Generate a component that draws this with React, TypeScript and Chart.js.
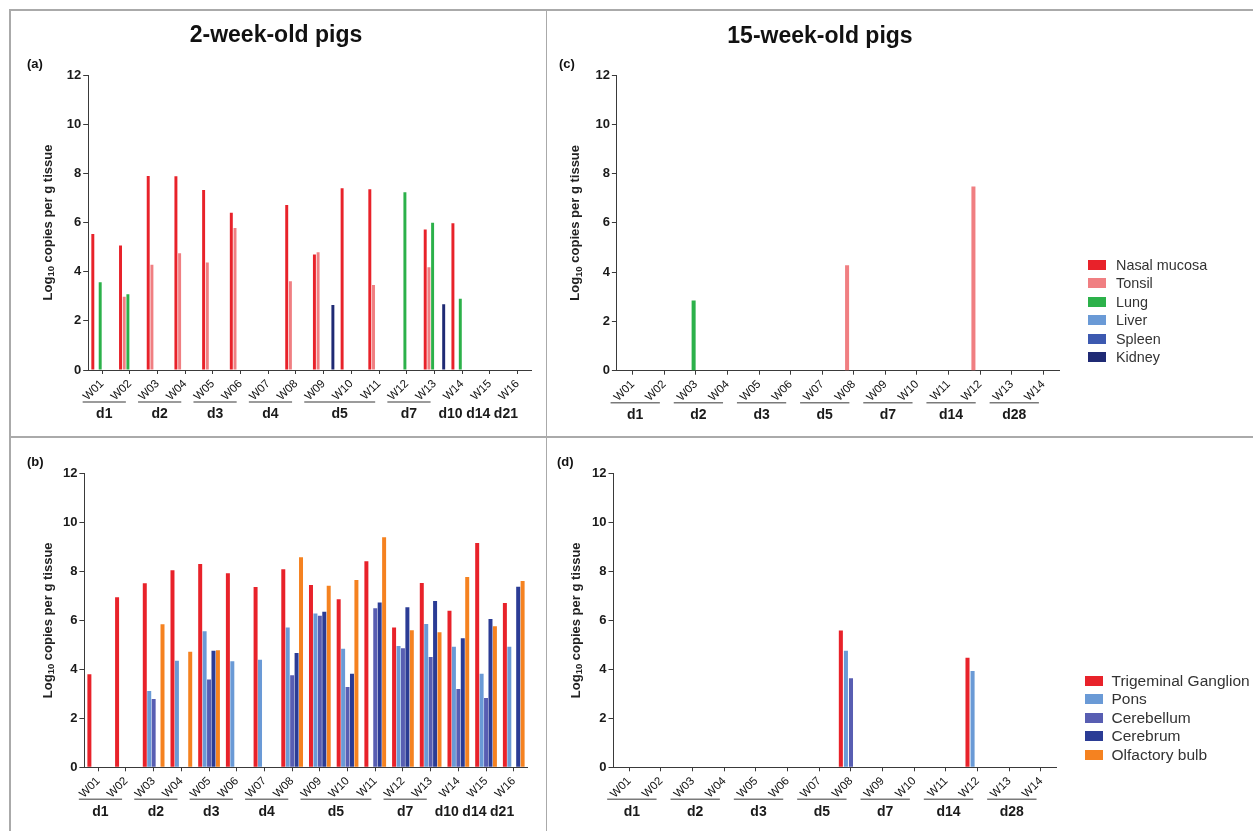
import React, { useEffect, useRef } from "react";
import { Chart, registerables } from "chart.js";

Chart.register(...registerables);

const FONT = "'Liberation Sans', Arial, Helvetica, sans-serif";

// Animals in each age group
const youngPigs = ["W01", "W02", "W03", "W04", "W05", "W06", "W07", "W08", "W09", "W10", "W11", "W12", "W13", "W14", "W15", "W16"];
const olderPigs = ["W01", "W02", "W03", "W04", "W05", "W06", "W07", "W08", "W09", "W10", "W11", "W12", "W13", "W14"];

// Day post infection and how many animals were sampled that day
const youngDays = ["d1", "d2", "d3", "d4", "d5", "d7", "d10", "d14", "d21"];
const youngDaySizes = [2, 2, 2, 2, 3, 2, 1, 1, 1];
const olderDays = ["d1", "d2", "d3", "d5", "d7", "d14", "d28"];
const olderDaySizes = [2, 2, 2, 2, 2, 2, 2];

// Peripheral tissues
const tissueNames = ["Nasal mucosa", "Tonsil", "Lung", "Liver", "Spleen", "Kidney"];
const tissueColors = ["#e8222a", "#f07f82", "#2cb14a", "#6a9ad6", "#3c59b0", "#1f2a74"];

// Nervous tissues
const neuralNames = ["Trigeminal Ganglion", "Pons", "Cerebellum", "Cerebrum", "Olfactory bulb"];
const neuralColors = ["#e8222a", "#6a9ad6", "#585eb2", "#2b3c95", "#f58220"];

// Log10 copies per g tissue — 2-week-old pigs, peripheral tissues
const youngNasal = [5.53, 5.06, 7.89, 7.88, 7.32, 6.4, 0, 6.71, 4.7, 7.39, 7.35, 0, 5.72, 5.97, 0, 0];
const youngTonsil = [0, 2.98, 4.28, 4.75, 4.37, 5.78, 0, 3.61, 4.79, 0, 3.46, 0, 4.18, 0, 0, 0];
const youngLung = [3.57, 3.08, 0, 0, 0, 0, 0, 0, 0, 0, 0, 7.23, 5.99, 2.9, 0, 0];
const youngLiver = [0, 0, 0, 0, 0, 0, 0, 0, 0, 0, 0, 0, 0, 0, 0, 0];
const youngSpleen = [0, 0, 0, 0, 0, 0, 0, 0, 0, 0, 0, 0, 0, 0, 0, 0];
const youngKidney = [0, 0, 0, 0, 0, 0, 0, 0, 2.64, 0, 0, 0, 2.67, 0, 0, 0];

// 2-week-old pigs, nervous tissues
const youngTrigeminal = [3.8, 6.94, 7.51, 8.04, 8.3, 7.92, 7.36, 8.08, 7.44, 6.86, 8.41, 5.71, 7.52, 6.39, 9.16, 6.71];
const youngPons = [0, 0, 3.11, 4.35, 5.55, 4.33, 4.39, 5.71, 6.28, 4.84, 0, 4.95, 5.85, 4.92, 3.82, 4.92];
const youngCerebellum = [0, 0, 2.79, 0, 3.58, 0, 0, 3.76, 6.19, 3.28, 6.49, 4.86, 4.5, 3.2, 2.83, 0];
const youngCerebrum = [0, 0, 0, 0, 4.76, 0, 0, 4.67, 6.35, 3.82, 6.73, 6.53, 6.79, 5.27, 6.05, 7.37];
const youngOlfactory = [0, 0, 5.84, 4.72, 4.78, 0, 0, 8.57, 7.41, 7.64, 9.39, 5.59, 5.51, 7.77, 5.76, 7.6];

// 15-week-old pigs, peripheral tissues
const olderNasal = [0, 0, 0, 0, 0, 0, 0, 0, 0, 0, 0, 0, 0, 0];
const olderTonsil = [0, 0, 0, 0, 0, 0, 0, 4.28, 0, 0, 0, 7.48, 0, 0];
const olderLung = [0, 0, 2.85, 0, 0, 0, 0, 0, 0, 0, 0, 0, 0, 0];
const olderLiver = [0, 0, 0, 0, 0, 0, 0, 0, 0, 0, 0, 0, 0, 0];
const olderSpleen = [0, 0, 0, 0, 0, 0, 0, 0, 0, 0, 0, 0, 0, 0];
const olderKidney = [0, 0, 0, 0, 0, 0, 0, 0, 0, 0, 0, 0, 0, 0];

// 15-week-old pigs, nervous tissues
const olderTrigeminal = [0, 0, 0, 0, 0, 0, 0, 5.58, 0, 0, 0, 4.47, 0, 0];
const olderPons = [0, 0, 0, 0, 0, 0, 0, 4.76, 0, 0, 0, 3.93, 0, 0];
const olderCerebellum = [0, 0, 0, 0, 0, 0, 0, 3.63, 0, 0, 0, 0, 0, 0];
const olderCerebrum = [0, 0, 0, 0, 0, 0, 0, 0, 0, 0, 0, 0, 0, 0];
const olderOlfactory = [0, 0, 0, 0, 0, 0, 0, 0, 0, 0, 0, 0, 0, 0];

const yTicks = [0, 2, 4, 6, 8, 10, 12];

type Area = { l: number; r: number; t: number; b: number };
type PanelSpec = {
  left: number;
  top: number;
  width: number;
  height: number;
  area: Area;
  labels: string[];
  days: string[];
  daySizes: number[];
  names: string[];
  colors: string[];
  series: number[][];
  catPct: number;
  barPct: number;
  titleGap: number;
};

const panels: PanelSpec[] = [
  {
    left: 0, top: 0, width: 546, height: 436,
    area: { l: 88.2, r: 531.4, t: 75, b: 370 },
    labels: youngPigs, days: youngDays, daySizes: youngDaySizes,
    names: tissueNames, colors: tissueColors,
    series: [youngNasal, youngTonsil, youngLung, youngLiver, youngSpleen, youngKidney],
    catPct: 0.8, barPct: 0.8, titleGap: 39.5,
  },
  {
    left: 0, top: 436, width: 546, height: 395,
    area: { l: 84.4, r: 527.6, t: 37.3, b: 331.3 },
    labels: youngPigs, days: youngDays, daySizes: youngDaySizes,
    names: neuralNames, colors: neuralColors,
    series: [youngTrigeminal, youngPons, youngCerebellum, youngCerebrum, youngOlfactory],
    catPct: 0.8, barPct: 0.9, titleGap: 36,
  },
  {
    left: 546, top: 0, width: 707, height: 436,
    area: { l: 70.9, r: 513.1, t: 75, b: 370.7 },
    labels: olderPigs, days: olderDays, daySizes: olderDaySizes,
    names: tissueNames, colors: tissueColors,
    series: [olderNasal, olderTonsil, olderLung, olderLiver, olderSpleen, olderKidney],
    catPct: 0.85, barPct: 0.9, titleGap: 41,
  },
  {
    left: 546, top: 436, width: 707, height: 395,
    area: { l: 67.5, r: 510.8, t: 37.3, b: 331.3 },
    labels: olderPigs, days: olderDays, daySizes: olderDaySizes,
    names: neuralNames, colors: neuralColors,
    series: [olderTrigeminal, olderPons, olderCerebellum, olderCerebrum, olderOlfactory],
    catPct: 0.8, barPct: 0.8, titleGap: 37.5,
  },
];

const AXIS = "#3a3a3a";

// Rotated "Log10 copies per g tissue" with a real subscript
function makeAxisTitle(gap: number) {
  return {
    id: "log10Title",
    afterDraw(chart: any) {
      const { ctx, chartArea } = chart;
      const main = `bold 13px ${FONT}`;
      const sub = `bold 9.5px ${FONT}`;
      const a = "Log";
      const b = "10";
      const c = " copies per g tissue";
      ctx.save();
      ctx.font = main;
      const wa = ctx.measureText(a).width;
      const wc = ctx.measureText(c).width;
      ctx.font = sub;
      const wb = ctx.measureText(b).width;
      const total = wa + wb + wc;
      ctx.translate(chartArea.left - gap, (chartArea.top + chartArea.bottom) / 2);
      ctx.rotate(-Math.PI / 2);
      ctx.fillStyle = "#222";
      ctx.textBaseline = "middle";
      ctx.textAlign = "left";
      let x = -total / 2;
      ctx.font = main;
      ctx.fillText(a, x, 0);
      x += wa;
      ctx.font = sub;
      ctx.fillText(b, x, 3);
      x += wb;
      ctx.font = main;
      ctx.fillText(c, x, 0);
      ctx.restore();
    },
  };
}

// Day-post-infection brackets under the animal labels
function makeDayGroups(days: string[], sizes: number[]) {
  return {
    id: "dayGroups",
    afterDraw(chart: any) {
      const { ctx, chartArea } = chart;
      const xs = chart.scales.x;
      const step = xs.getPixelForValue(1) - xs.getPixelForValue(0);
      const lineY = chartArea.bottom + 32;
      const textY = chartArea.bottom + 44.5;
      ctx.save();
      let idx = 0;
      days.forEach((d, i) => {
        const n = sizes[i];
        const first = xs.getPixelForValue(idx);
        const last = xs.getPixelForValue(idx + n - 1);
        const x0 = first - 0.7 * step;
        const x1 = last - 0.14 * step;
        if (n > 1) {
          ctx.strokeStyle = "#7a7a7a";
          ctx.lineWidth = 1.5;
          ctx.beginPath();
          ctx.moveTo(x0, lineY);
          ctx.lineTo(x1, lineY);
          ctx.stroke();
        }
        ctx.fillStyle = "#1a1a1a";
        ctx.font = `bold 14px ${FONT}`;
        ctx.textAlign = "center";
        ctx.textBaseline = "middle";
        ctx.fillText(d, (x0 + x1) / 2, textY);
        idx += n;
      });
      ctx.restore();
    },
  };
}

function Panel({ spec }: { spec: PanelSpec }) {
  const ref = useRef<HTMLCanvasElement | null>(null);
  useEffect(() => {
    if (!ref.current) return;
    const { area, width, height } = spec;
    const chart = new Chart(ref.current, {
      type: "bar",
      data: {
        labels: spec.labels,
        datasets: spec.series.map((values, i) => ({
          label: spec.names[i],
          data: values,
          backgroundColor: spec.colors[i],
          borderWidth: 0,
          categoryPercentage: spec.catPct,
          barPercentage: spec.barPct,
        })),
      },
      options: {
        responsive: false,
        animation: false,
        events: [],
        layout: { padding: { left: 0, top: area.t, right: width - area.r, bottom: 0 } },
        plugins: { legend: { display: false }, tooltip: { enabled: false }, title: { display: false } },
        scales: {
          x: {
            type: "category",
            offset: true,
            grid: { offset: false, drawOnChartArea: false, drawTicks: true, tickLength: 4, color: AXIS, lineWidth: 1 },
            border: { display: true, color: AXIS, width: 1 },
            ticks: {
              autoSkip: false,
              minRotation: 45,
              maxRotation: 45,
              padding: 3,
              color: "#111",
              font: { family: FONT, size: 11.5 },
            },
            afterFit: (s: any) => {
              s.height = height - area.b;
            },
          },
          y: {
            min: 0,
            max: 12,
            afterBuildTicks: (s: any) => {
              s.ticks = yTicks.map((v) => ({ value: v }));
            },
            grid: { drawOnChartArea: false, drawTicks: true, tickLength: 5, color: AXIS, lineWidth: 1 },
            border: { display: true, color: AXIS, width: 1 },
            ticks: { padding: 2, color: "#1a1a1a", font: { family: FONT, size: 13, weight: "bold" } },
            afterFit: (s: any) => {
              s.width = area.l;
            },
          },
        },
      } as any,
      plugins: [makeAxisTitle(spec.titleGap), makeDayGroups(spec.days, spec.daySizes)],
    });
    return () => chart.destroy();
  }, [spec]);
  return (
    <canvas
      ref={ref}
      width={spec.width}
      height={spec.height}
      style={{ position: "absolute", left: spec.left, top: spec.top, width: spec.width, height: spec.height }}
    />
  );
}

function Legend({
  names, colors, left, top, textLeft, fontSize,
}: { names: string[]; colors: string[]; left: number; top: number; textLeft: number; fontSize: number }) {
  return (
    <>
      {names.map((n, i) => (
        <React.Fragment key={n}>
          <div
            style={{
              position: "absolute",
              left,
              top: top + i * 18.5 - 5,
              width: 17.5,
              height: 10,
              background: colors[i],
            }}
          />
          <div
            style={{
              position: "absolute",
              left: textLeft,
              top: top + i * 18.5 - 9,
              height: 18,
              lineHeight: "18px",
              fontSize,
              color: "#333",
              whiteSpace: "nowrap",
            }}
          >
            {n}
          </div>
        </React.Fragment>
      ))}
    </>
  );
}

const lineStyle = { position: "absolute" as const, background: "#aaaaaa" };

const textBase = {
  position: "absolute" as const,
  fontWeight: "bold" as const,
  color: "#111",
  whiteSpace: "nowrap" as const,
};

export default function App() {
  return (
    <div
      style={{
        position: "absolute",
        left: 0,
        top: 0,
        width: 1253,
        height: 831,
        overflow: "hidden",
        background: "#fff",
        fontFamily: FONT,
      }}
    >
      {panels.map((p, i) => (
        <Panel key={i} spec={p} />
      ))}

      {/* frame and panel dividers */}
      <div style={{ ...lineStyle, left: 9, top: 9, width: 1244, height: 1.5 }} />
      <div style={{ ...lineStyle, left: 9, top: 9, width: 1.5, height: 822 }} />
      <div style={{ ...lineStyle, left: 545.5, top: 9, width: 1.5, height: 822 }} />
      <div style={{ ...lineStyle, left: 9, top: 436, width: 1244, height: 1.5 }} />

      <div style={{ ...textBase, left: 126, top: 23, width: 300, textAlign: "center", fontSize: 23, lineHeight: "22px" }}>
        2-week-old pigs
      </div>
      <div style={{ ...textBase, left: 670, top: 24, width: 300, textAlign: "center", fontSize: 23, lineHeight: "22px" }}>
        15-week-old pigs
      </div>

      <div style={{ ...textBase, left: 27, top: 57, fontSize: 13, lineHeight: "13px" }}>(a)</div>
      <div style={{ ...textBase, left: 27, top: 455, fontSize: 13, lineHeight: "13px" }}>(b)</div>
      <div style={{ ...textBase, left: 559, top: 57, fontSize: 13, lineHeight: "13px" }}>(c)</div>
      <div style={{ ...textBase, left: 557, top: 455, fontSize: 13, lineHeight: "13px" }}>(d)</div>

      <Legend names={tissueNames} colors={tissueColors} left={1088} top={264.7} textLeft={1116} fontSize={14.4} />
      <Legend names={neuralNames} colors={neuralColors} left={1085} top={680.7} textLeft={1111.5} fontSize={15.5} />
    </div>
  );
}
